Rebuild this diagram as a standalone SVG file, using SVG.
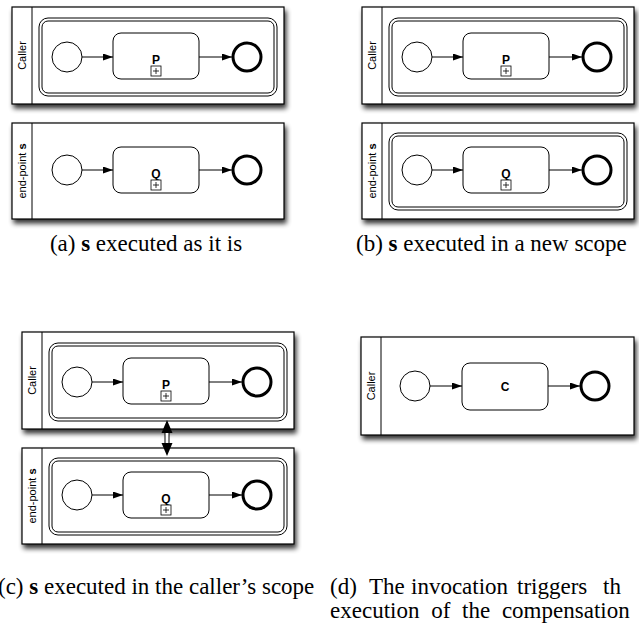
<svg xmlns="http://www.w3.org/2000/svg" width="639" height="635" viewBox="0 0 639 635">
<style>
.pool{fill:#fff;stroke:#000;stroke-width:1.2}
.div{stroke:#000;stroke-width:1}
.sc{fill:none;stroke:#000;stroke-width:1}
.task{fill:#fff;stroke:#000;stroke-width:1}
.start{fill:#fff;stroke:#000;stroke-width:1}
.end{fill:#fff;stroke:#000;stroke-width:3}
.plus{fill:#fff;stroke:#000;stroke-width:0.8}
.pl{stroke:#000;stroke-width:0.8}
.lbl{font-family:"Liberation Sans",Arial,sans-serif;font-size:11px;fill:#000}
.tl{font-family:"Liberation Sans",Arial,sans-serif;font-size:12px;font-weight:bold;fill:#000;text-anchor:middle}
.cap{font-family:"Liberation Serif","Times New Roman",serif;font-size:23px;fill:#000}
.flow{stroke:#000;stroke-width:1;fill:none;marker-end:url(#ah)}
</style>
<defs>
<filter id="sh" x="-10%" y="-10%" width="125%" height="135%">
<feGaussianBlur in="SourceAlpha" stdDeviation="2.5"/>
<feOffset dx="2" dy="4" result="o"/>
<feComponentTransfer><feFuncA type="linear" slope="0.8"/></feComponentTransfer>
<feMerge><feMergeNode/><feMergeNode in="SourceGraphic"/></feMerge>
</filter>
<marker id="ah" viewBox="0 0 10 7" refX="10" refY="3.5" markerWidth="10" markerHeight="7" markerUnits="userSpaceOnUse" orient="auto">
<path d="M0,0 L10,3.5 L0,7 z" fill="#000"/>
</marker>
</defs>

<!-- (a) -->
<g id="a-caller">
<rect class="pool" x="12" y="7" width="272" height="97" filter="url(#sh)"/>
<line class="div" x1="32" y1="7" x2="32" y2="104"/>
<text class="lbl" transform="translate(25.5,55.5) rotate(-90)" text-anchor="middle">Caller</text>
<rect class="sc" x="39" y="18" width="238" height="78" rx="9"/>
<rect class="sc" x="42" y="21" width="232" height="72" rx="6"/>
</g>
<g id="a-start1"><circle class="start" cx="67" cy="57" r="15"/></g>
<g id="a-P"><rect class="task" x="113" y="33" width="86" height="46" rx="8"/><text class="tl" x="156" y="64">P</text><rect class="plus" x="151" y="66" width="10" height="10"/><path class="pl" d="M153,71H159M156,68V74"/></g>
<g id="a-end1"><circle class="end" cx="247" cy="57" r="14"/></g>

<g id="a-endpoint">
<rect class="pool" x="12" y="123" width="272" height="96" filter="url(#sh)"/>
<line class="div" x1="32" y1="123" x2="32" y2="219"/>
<text class="lbl" transform="translate(25.5,171) rotate(-90)" text-anchor="middle">end-point <tspan font-weight="bold">s</tspan></text>
</g>
<g id="a-start2"><circle class="start" cx="67" cy="170" r="15"/></g>
<g id="a-Q"><rect class="task" x="113" y="147" width="86" height="46" rx="8"/><text class="tl" x="156" y="178">Q</text><rect class="plus" x="151" y="180" width="10" height="10"/><path class="pl" d="M153,185H159M156,182V188"/></g>
<g id="a-end2"><circle class="end" cx="247" cy="170" r="14"/></g>

<!-- (b) -->
<g id="b-caller">
<rect class="pool" x="362" y="7" width="272" height="97" filter="url(#sh)"/>
<line class="div" x1="382" y1="7" x2="382" y2="104"/>
<text class="lbl" transform="translate(375.5,55.5) rotate(-90)" text-anchor="middle">Caller</text>
<rect class="sc" x="389" y="18" width="238" height="78" rx="9"/>
<rect class="sc" x="392" y="21" width="232" height="72" rx="6"/>
</g>
<g id="b-start1"><circle class="start" cx="417" cy="57" r="15"/></g>
<g id="b-P"><rect class="task" x="463" y="33" width="86" height="46" rx="8"/><text class="tl" x="506" y="64">P</text><rect class="plus" x="501" y="66" width="10" height="10"/><path class="pl" d="M503,71H509M506,68V74"/></g>
<g id="b-end1"><circle class="end" cx="597" cy="57" r="14"/></g>

<g id="b-endpoint">
<rect class="pool" x="362" y="123" width="272" height="96" filter="url(#sh)"/>
<line class="div" x1="382" y1="123" x2="382" y2="219"/>
<text class="lbl" transform="translate(375.5,171) rotate(-90)" text-anchor="middle">end-point <tspan font-weight="bold">s</tspan></text>
<rect class="sc" x="389" y="133" width="238" height="77" rx="9"/>
<rect class="sc" x="392" y="136" width="232" height="71" rx="6"/>
</g>
<g id="b-start2"><circle class="start" cx="417" cy="170" r="15"/></g>
<g id="b-Q"><rect class="task" x="463" y="147" width="86" height="46" rx="8"/><text class="tl" x="506" y="178">Q</text><rect class="plus" x="501" y="180" width="10" height="10"/><path class="pl" d="M503,185H509M506,182V188"/></g>
<g id="b-end2"><circle class="end" cx="597" cy="170" r="14"/></g>

<!-- (c) -->
<g id="c-caller">
<rect class="pool" x="22" y="332" width="272" height="97" filter="url(#sh)"/>
<line class="div" x1="42" y1="332" x2="42" y2="429"/>
<text class="lbl" transform="translate(35.5,380.5) rotate(-90)" text-anchor="middle">Caller</text>
<rect class="sc" x="49" y="343" width="238" height="78" rx="9"/>
<rect class="sc" x="52" y="346" width="232" height="72" rx="6"/>
</g>
<g id="c-start1"><circle class="start" cx="77" cy="382" r="15"/></g>
<g id="c-P"><rect class="task" x="123" y="358" width="86" height="46" rx="8"/><text class="tl" x="166" y="389">P</text><rect class="plus" x="161" y="391" width="10" height="10"/><path class="pl" d="M163,396H169M166,393V399"/></g>
<g id="c-end1"><circle class="end" cx="257" cy="382" r="14"/></g>

<g id="c-endpoint">
<rect class="pool" x="22" y="448" width="272" height="96" filter="url(#sh)"/>
<line class="div" x1="42" y1="448" x2="42" y2="544"/>
<text class="lbl" transform="translate(35.5,496) rotate(-90)" text-anchor="middle">end-point <tspan font-weight="bold">s</tspan></text>
<rect class="sc" x="49" y="458" width="238" height="77" rx="9"/>
<rect class="sc" x="52" y="461" width="232" height="71" rx="6"/>
</g>
<g id="c-start2"><circle class="start" cx="77" cy="495" r="15"/></g>
<g id="c-Q"><rect class="task" x="123" y="472" width="86" height="46" rx="8"/><text class="tl" x="166" y="503">Q</text><rect class="plus" x="161" y="505" width="10" height="10"/><path class="pl" d="M163,510H169M166,507V513"/></g>
<g id="c-end2"><circle class="end" cx="257" cy="495" r="14"/></g>

<!-- (d) -->
<g id="d-caller">
<rect class="pool" x="361" y="337" width="273" height="98" filter="url(#sh)"/>
<line class="div" x1="381" y1="337" x2="381" y2="435"/>
<text class="lbl" transform="translate(374.5,386) rotate(-90)" text-anchor="middle">Caller</text>
</g>
<g id="d-start"><circle class="start" cx="415" cy="386" r="15"/></g>
<g id="d-C"><rect class="task" x="462" y="363" width="86" height="47" rx="8"/><text class="tl" x="505" y="391" font-size="13">C</text></g>
<g id="d-end"><circle class="end" cx="595" cy="386" r="14"/></g>

<g id="connectors">
<line class="flow" x1="82" y1="57" x2="113" y2="57"/>
<line class="flow" x1="199" y1="57" x2="232" y2="57"/>
<line class="flow" x1="82" y1="170" x2="113" y2="170"/>
<line class="flow" x1="199" y1="170" x2="232" y2="170"/>
<line class="flow" x1="432" y1="57" x2="463" y2="57"/>
<line class="flow" x1="549" y1="57" x2="582" y2="57"/>
<line class="flow" x1="432" y1="170" x2="463" y2="170"/>
<line class="flow" x1="549" y1="170" x2="582" y2="170"/>
<line class="flow" x1="92" y1="382" x2="123" y2="382"/>
<line class="flow" x1="209" y1="382" x2="242" y2="382"/>
<line class="flow" x1="92" y1="495" x2="123" y2="495"/>
<line class="flow" x1="209" y1="495" x2="242" y2="495"/>
<line class="flow" x1="430" y1="386" x2="462" y2="386"/>
<line class="flow" x1="548" y1="386" x2="580" y2="386"/>
<g id="c-link">
<rect x="165" y="432" width="4" height="12" fill="#fff" stroke="#000" stroke-width="1"/>
<path d="M167,420 L172.5,433 L161.5,433 Z" fill="#000"/>
<path d="M167,456 L172.5,443 L161.5,443 Z" fill="#000"/>
</g>
</g>

<g id="captions">
<text class="cap" x="146" y="251" text-anchor="middle">(a) <tspan font-weight="bold">s</tspan> executed as it is</text>
<text class="cap" x="356" y="251">(b) <tspan font-weight="bold">s</tspan> executed in a new scope</text>
<text class="cap" x="-2" y="594">(c) <tspan font-weight="bold">s</tspan> executed in the caller’s scope</text>
<text class="cap" y="594"><tspan x="330">(d)</tspan><tspan x="369">The</tspan><tspan x="411">invocation</tspan><tspan x="517">triggers</tspan><tspan x="603">th</tspan></text>
<text class="cap" x="330" y="618" word-spacing="6">execution of the compensation</text>
</g>
</svg>
